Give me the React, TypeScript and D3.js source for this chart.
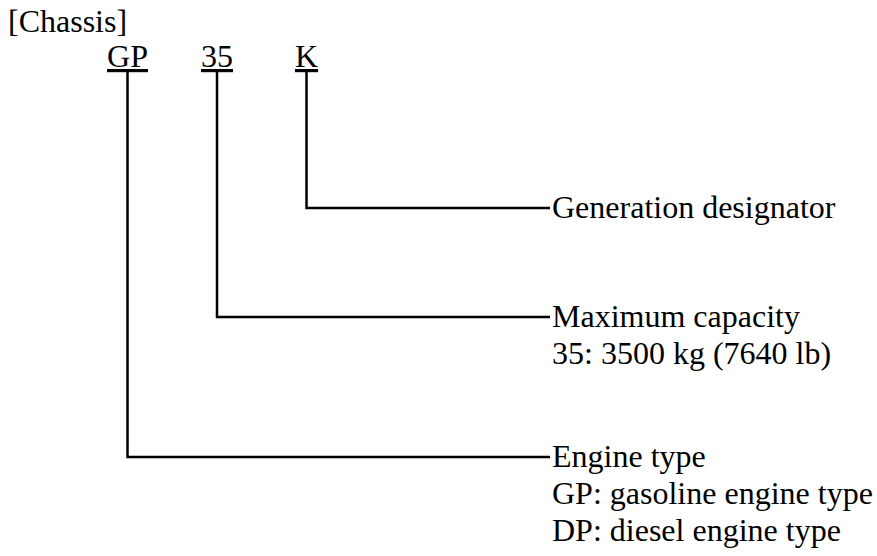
import React from "react";
import * as d3 from "d3";

const title = "[Chassis]";
const codes = ["GP", "35", "K"];
const labelLines: string[][] = [
  ["Engine type", "GP: gasoline engine type", "DP: diesel engine type"],
  ["Maximum capacity", "35: 3500 kg (7640 lb)"],
  ["Generation designator"],
];

const W = 877;
const H = 556;
const FONT = "'Liberation Serif', 'Times New Roman', Times, serif";
const FS = 32;
const LH = 37;
const ROW_UNIT = 31;
const GAP = 78;

export default function App() {
  const x = d3.scalePoint<string>().domain(codes).range([127.5, 306.5]);
  // rows ordered from top (last code) to bottom (first code)
  const order = codes.map((c, i) => i).reverse();
  const rowY: number[] = new Array(codes.length);
  let y = 208;
  order.forEach((i) => {
    rowY[i] = y;
    y += labelLines[i].length * ROW_UNIT + GAP;
  });
  const labelX = 552;
  const lineEnd = 550;
  const codeBase = 67;
  const lineTop = 72;

  return (
    <svg
      width={W}
      height={H}
      style={{ position: "absolute", left: 0, top: 0, background: "#fff" }}
      fontFamily={FONT}
    >
      <rect width={W} height={H} fill="#fff" />
      <text x={8} y={32} fontSize={FS} fill="#000">
        {title}
      </text>
      {codes.map((c, i) => {
        const cx = x(c) as number;
        const ry = rowY[i];
        const path = d3.path();
        path.moveTo(cx, lineTop);
        path.lineTo(cx, ry);
        path.lineTo(lineEnd, ry);
        return (
          <g key={c}>
            <text
              x={cx}
              y={codeBase}
              fontSize={FS}
              textAnchor="middle"
              textDecoration="underline"
              fill="#000"
            >
              {c}
            </text>
            <path d={path.toString()} fill="none" stroke="#000" strokeWidth={2.5} />
            {labelLines[i].map((t, j) => (
              <text key={j} x={labelX} y={ry + 10 + j * LH} fontSize={FS} fill="#000">
                {t}
              </text>
            ))}
          </g>
        );
      })}
    </svg>
  );
}
